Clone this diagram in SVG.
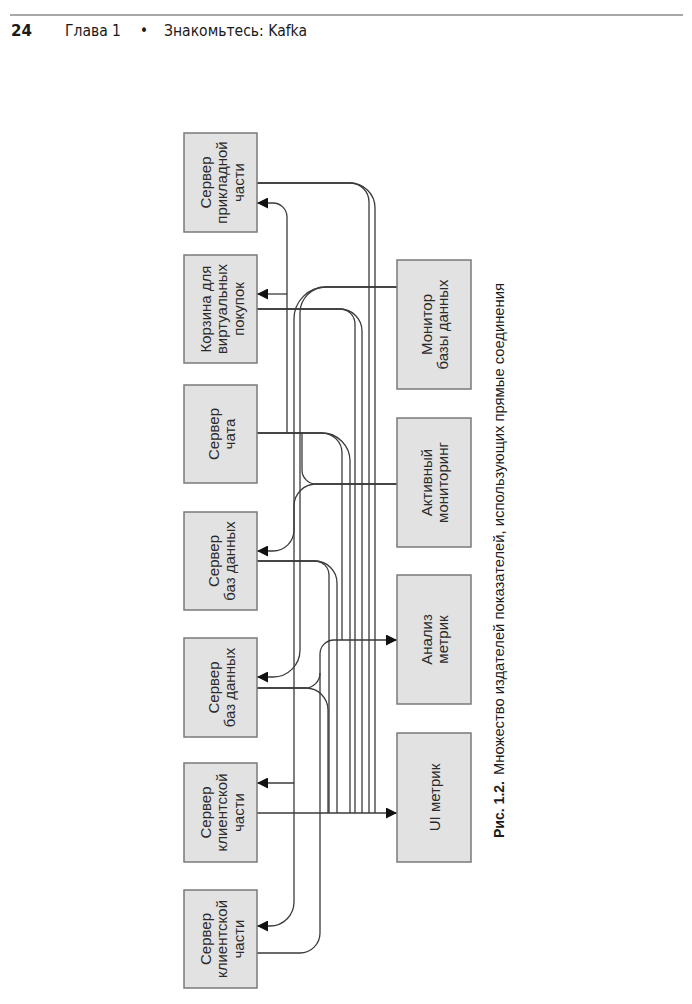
<svg xmlns="http://www.w3.org/2000/svg" width="692" height="1004" viewBox="0 0 692 1004">
<style>
.bg{fill:#ffffff}
.box{fill:#e2e2e2;stroke:#7a7a7a;stroke-width:1.5}
.lbl{font-family:"Liberation Sans",Arial,sans-serif;font-size:15px;fill:#2a2a2a;text-anchor:middle}
.c{fill:none;stroke:#3a3a3a;stroke-width:1.3}
.hdr{font-family:"DejaVu Sans Condensed","DejaVu Sans","Liberation Sans",sans-serif;font-size:15px;fill:#1a1a1a}
.cap{font-family:"Liberation Sans",Arial,sans-serif;font-size:15px;fill:#1a1a1a}
</style>
<defs>
<marker id="ah" markerUnits="userSpaceOnUse" markerWidth="12" markerHeight="11" refX="11" refY="5.5" orient="auto">
<path d="M0,0 L11,5.5 L0,11 z" fill="#111"/>
</marker>
</defs>
<rect class="bg" x="0" y="0" width="692" height="1004"/>
<g id="header">
<line x1="10" y1="15" x2="683" y2="15" stroke="#8a8a8a" stroke-width="1.6"/>
<text class="hdr" x="11" y="36" font-weight="bold" textLength="21" lengthAdjust="spacingAndGlyphs">24</text>
<text class="hdr" x="65" y="36" textLength="56" lengthAdjust="spacingAndGlyphs">Глава 1</text>
<text class="hdr" x="140" y="36">•</text>
<text class="hdr" x="164" y="36" textLength="143" lengthAdjust="spacingAndGlyphs">Знакомьтесь: Kafka</text>
</g>
<g id="connectors">
<path class="c" d="M257,183 H350 A19,19 0 0 1 369,202 V813"/>
<path class="c" d="M257,183 H350 A25,25 0 0 1 375,208 V813"/>
<path class="c" d="M257,309 H340 A15,15 0 0 1 355,324 V813"/>
<path class="c" d="M257,309 H340 A22,22 0 0 1 362,331 V813"/>
<path class="c" d="M257,433 H322 A20,20 0 0 1 342,453 V640"/>
<path class="c" d="M257,433 H322 A28,28 0 0 1 350,461 V813"/>
<path class="c" d="M257,561 H315 A14,14 0 0 1 329,575 V813"/>
<path class="c" d="M257,561 H315 A22,22 0 0 1 337,583 V813"/>
<path class="c" d="M257,688 H305 A15,15 0 0 0 320,673"/>
<path class="c" d="M257,688 H306 A22,22 0 0 1 328,710 V813"/>
<path class="c" d="M257,953 H300 A20,20 0 0 0 320,933 V654 A14,14 0 0 1 334,640 H397" marker-end="url(#ah)"/>
<path class="c" d="M257,813 H397" marker-end="url(#ah)"/>
<path class="c" d="M397,287 H326 A32,32 0 0 0 294,319 V902 A24,24 0 0 1 270,926 H257" marker-end="url(#ah)"/>
<path class="c" d="M397,287 H326 A26,26 0 0 0 300,313 V650 A27,27 0 0 1 273,677 H257" marker-end="url(#ah)"/>
<path class="c" d="M294,783 H257" marker-end="url(#ah)"/>
<path class="c" d="M294,530 A21,21 0 0 1 273,551 H257" marker-end="url(#ah)"/>
<path class="c" d="M397,484 H316 A14,14 0 0 1 302,470 V433"/>
<path class="c" d="M397,484 H316 A22,22 0 0 0 294,506 V530"/>
<path class="c" d="M287,433 V217 A14,14 0 0 0 273,203 H257" marker-end="url(#ah)"/>
<path class="c" d="M287,294 H257" marker-end="url(#ah)"/>
</g>
<g id="n1">
<rect class="box" x="184" y="133" width="73" height="99"/>
<text class="lbl" transform="translate(220.5,182.5) rotate(-90)"><tspan x="0" y="-10">Сервер</tspan><tspan x="0" y="6.5">прикладной</tspan><tspan x="0" y="23">части</tspan></text>
</g>
<g id="n2">
<rect class="box" x="184" y="255" width="73" height="108"/>
<text class="lbl" transform="translate(220.5,309) rotate(-90)"><tspan x="0" y="-10">Корзина для</tspan><tspan x="0" y="6.5">виртуальных</tspan><tspan x="0" y="23">покупок</tspan></text>
</g>
<g id="n3">
<rect class="box" x="184" y="385" width="73" height="98"/>
<text class="lbl" transform="translate(220.5,434) rotate(-90)"><tspan x="0" y="-2">Сервер</tspan><tspan x="0" y="14.5">чата</tspan></text>
</g>
<g id="n4">
<rect class="box" x="184" y="512" width="73" height="98"/>
<text class="lbl" transform="translate(220.5,561) rotate(-90)"><tspan x="0" y="-2">Сервер</tspan><tspan x="0" y="14.5">баз данных</tspan></text>
</g>
<g id="n5">
<rect class="box" x="184" y="638" width="73" height="99"/>
<text class="lbl" transform="translate(220.5,687.5) rotate(-90)"><tspan x="0" y="-2">Сервер</tspan><tspan x="0" y="14.5">баз данных</tspan></text>
</g>
<g id="n6">
<rect class="box" x="184" y="763" width="73" height="99"/>
<text class="lbl" transform="translate(220.5,812.5) rotate(-90)"><tspan x="0" y="-10">Сервер</tspan><tspan x="0" y="6.5">клиентской</tspan><tspan x="0" y="23">части</tspan></text>
</g>
<g id="n7">
<rect class="box" x="184" y="890" width="73" height="98"/>
<text class="lbl" transform="translate(220.5,939) rotate(-90)"><tspan x="0" y="-10">Сервер</tspan><tspan x="0" y="6.5">клиентской</tspan><tspan x="0" y="23">части</tspan></text>
</g>
<g id="n8">
<rect class="box" x="397" y="260" width="74" height="129"/>
<text class="lbl" transform="translate(434,324.5) rotate(-90)"><tspan x="0" y="-2.5">Монитор</tspan><tspan x="0" y="14">базы данных</tspan></text>
</g>
<g id="n9">
<rect class="box" x="397" y="418" width="74" height="129"/>
<text class="lbl" transform="translate(434,482.5) rotate(-90)"><tspan x="0" y="-2.5">Активный</tspan><tspan x="0" y="14">мониторинг</tspan></text>
</g>
<g id="n10">
<rect class="box" x="397" y="575" width="74" height="129"/>
<text class="lbl" transform="translate(434,639.5) rotate(-90)"><tspan x="0" y="-2.5">Анализ</tspan><tspan x="0" y="14">метрик</tspan></text>
</g>
<g id="n11">
<rect class="box" x="397" y="733" width="74" height="129"/>
<text class="lbl" transform="translate(434,797.5) rotate(-90)"><tspan x="0" y="5.5">UI метрик</tspan></text>
</g>
<g id="caption">
<text class="cap" transform="translate(504,838) rotate(-90)" font-weight="bold" textLength="57" lengthAdjust="spacingAndGlyphs">Рис. 1.2.</text>
<text class="cap" transform="translate(504,775) rotate(-90)" textLength="492" lengthAdjust="spacingAndGlyphs">Множество издателей показателей, использующих прямые соединения</text>
</g>
</svg>
